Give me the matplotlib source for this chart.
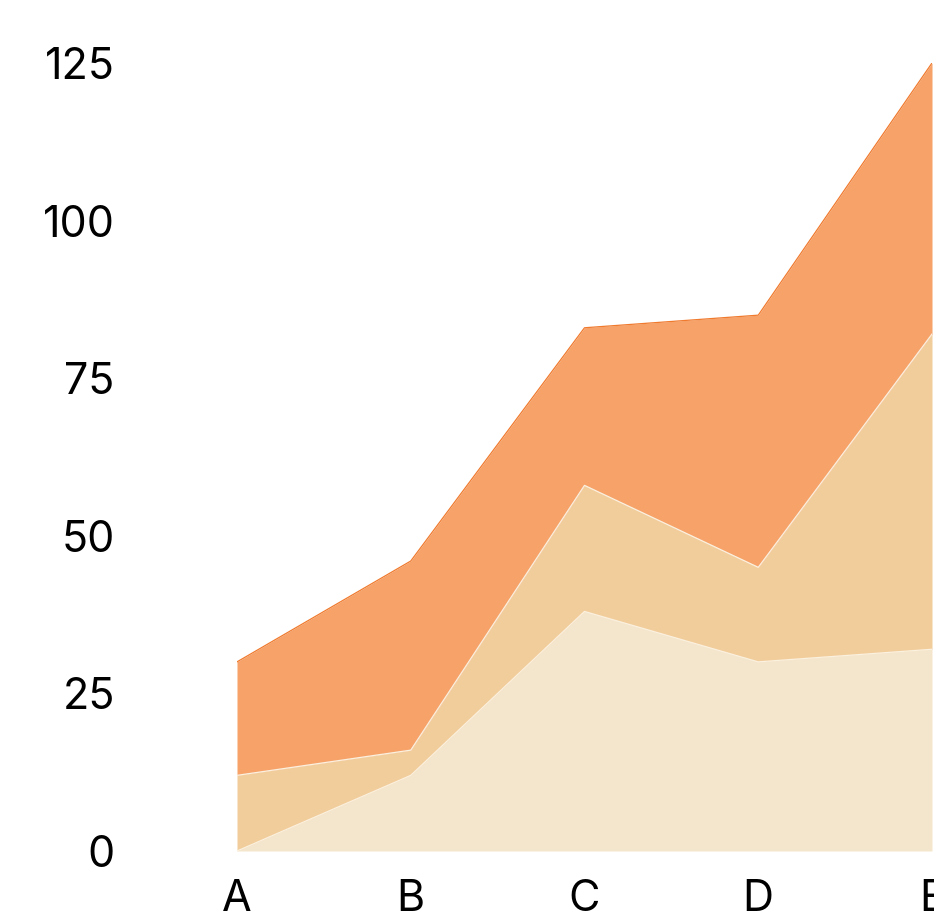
import numpy as np
from matplotlib import pyplot as plt

# Stacked series, bottom to top
categories = ['A', 'B', 'C', 'D', 'E']
base_values = [0, 12, 38, 30, 32]
middle_values = [12, 4, 20, 15, 50]
top_values = [18, 30, 25, 40, 43]
y_ticks = [0, 25, 50, 75, 100, 125]

fill_colors = ['#F4E6CD', '#F2CD9C', '#F6A269']
seam_color = '#FBF1DF'
top_edge_color = '#F07A2E'

plt.rcParams['font.family'] = ['Inter', 'DejaVu Sans']

fig = plt.figure(figsize=(9.34, 9.22), dpi=100)
ax = fig.add_axes([237 / 934, 71 / 922, 695 / 934, 788 / 922])

x = np.arange(len(categories))
layers = [np.array(base_values), np.array(middle_values), np.array(top_values)]
lower = np.zeros(len(categories))
for i, (layer, color) in enumerate(zip(layers, fill_colors)):
    upper = lower + layer
    ax.fill_between(x, lower, upper, color=color, linewidth=0, zorder=1)
    edge = top_edge_color if i == len(layers) - 1 else seam_color
    ax.plot(x, upper, color=edge, linewidth=0.9, zorder=2)
    lower = upper

ax.set_xlim(0, len(categories) - 1)
ax.set_ylim(0, 125)
ax.set_xticks(x, categories)
ax.set_yticks(y_ticks, [str(v) for v in y_ticks])
ax.tick_params(axis='both', length=0, labelsize=31, colors='black')
ax.tick_params(axis='y', pad=88)
ax.tick_params(axis='x', pad=20)
for spine in ax.spines.values():
    spine.set_visible(False)

fig.savefig('out.png', dpi=100)
